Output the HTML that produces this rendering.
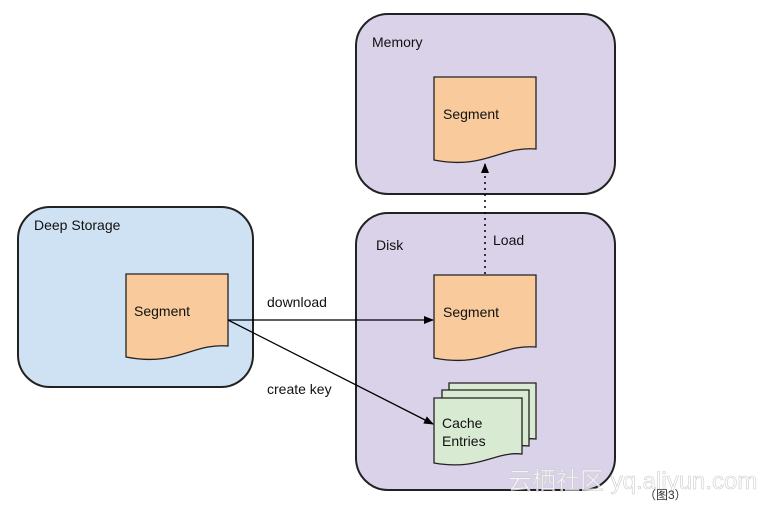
<!DOCTYPE html>
<html><head><meta charset="utf-8"><style>
html,body{margin:0;padding:0;background:#fff;width:773px;height:505px;overflow:hidden}
svg text{font-family:"Liberation Sans",Arial,sans-serif}
</style></head><body>
<svg width="773" height="505" viewBox="0 0 773 505" xmlns="http://www.w3.org/2000/svg">
<defs>
<marker id="ah" markerWidth="10" markerHeight="8" refX="9" refY="4" orient="auto" markerUnits="userSpaceOnUse">
<path d="M0,0 L10,4 L0,8 Z" fill="#000"/></marker>
</defs>
<rect x="356" y="14" width="259" height="180" rx="32" fill="#d9d2e9" stroke="#222" stroke-width="2"/>
<rect x="356" y="213" width="259" height="277" rx="32" fill="#d9d2e9" stroke="#222" stroke-width="2"/>
<rect x="18" y="207" width="235" height="180" rx="32" fill="#cfe2f3" stroke="#222" stroke-width="2"/>
<text x="372" y="47" font-size="14" fill="#111">Memory</text>
<text x="376" y="250" font-size="14" fill="#111">Disk</text>
<text x="34" y="230" font-size="14" fill="#111">Deep Storage</text>
<g fill="#f9cb9c" stroke="#222" stroke-width="1.3">
<path d="M434,77 H536 V149 C500,146 485,170 434,160 Z"/>
<path d="M434,275 H536 V347 C500,344 485,368 434,358 Z"/>
<path d="M126,274 H228 V346 C192,343 177,367 126,357 Z"/>
</g>
<g fill="#d9ead3" stroke="#222" stroke-width="1.3">
<path d="M449,383 H536 V439 C510,436 495,456 449,448 Z"/>
<path d="M442,390 H529 V446 C503,443 488,463 442,455 Z"/>
<path d="M434,398 H522 V454 C495,451 480,471 434,463 Z"/>
</g>
<text x="443" y="119" font-size="14" fill="#111">Segment</text>
<text x="443" y="317" font-size="14" fill="#111">Segment</text>
<text x="134" y="316" font-size="14" fill="#111">Segment</text>
<text x="442" y="428" font-size="14" fill="#111">Cache</text>
<text x="442" y="446" font-size="14" fill="#111">Entries</text>
<line x1="228" y1="320" x2="433" y2="320" stroke="#000" stroke-width="1.3" marker-end="url(#ah)"/>
<line x1="228" y1="320" x2="433" y2="424" stroke="#000" stroke-width="1.3" marker-end="url(#ah)"/>
<line x1="485" y1="274" x2="485" y2="164" stroke="#000" stroke-width="1.5" stroke-dasharray="2,4" marker-end="url(#ah)"/>
<text x="267" y="307" font-size="14" fill="#111">download</text>
<text x="267" y="394" font-size="14" fill="#111">create key</text>
<text x="493" y="245" font-size="14" fill="#111">Load</text>
<text x="508" y="489" font-size="24" fill="#fff" fill-opacity="0.75" stroke="#ccc" stroke-width="0.6" font-family="'Liberation Sans','Noto Sans CJK SC',sans-serif">云栖社区 yq.aliyun.com</text>
<text x="644" y="499" font-size="12" fill="#333" font-family="'Liberation Sans','Noto Sans CJK SC',sans-serif">（图3）</text>
</svg>
</body></html>
